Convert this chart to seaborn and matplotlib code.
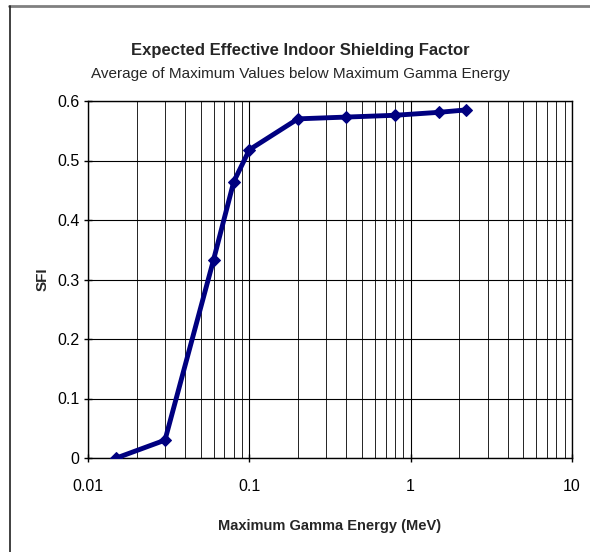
import matplotlib
matplotlib.use("Agg")
import matplotlib.pyplot as plt
import seaborn as sns
import pandas as pd
from matplotlib.lines import Line2D
from matplotlib.ticker import LogLocator, FixedLocator, FixedFormatter

energy = [0.015, 0.03, 0.06, 0.08, 0.1, 0.2, 0.4, 0.8, 1.5, 2.2]
sfi = [0.0, 0.03, 0.333, 0.464, 0.518, 0.570, 0.573, 0.576, 0.581, 0.585]
x_ticks = [0.01, 0.1, 1, 10]
x_tick_labels = ["0.01", "0.1", "1", "10"]
y_ticks = [0, 0.1, 0.2, 0.3, 0.4, 0.5, 0.6]
y_tick_labels = ["0", "0.1", "0.2", "0.3", "0.4", "0.5", "0.6"]

sns.set_style("white")
plt.rcParams['font.family'] = ['Liberation Sans', 'DejaVu Sans']

df = pd.DataFrame({"energy": energy, "sfi": sfi})

fig = plt.figure(figsize=(5.9, 5.52), dpi=100)
ax = fig.add_axes([88/590, 1-458/552, (572-88)/590, (458-101)/552])

ax.set_xscale("log")
sns.lineplot(data=df, x="energy", y="sfi", ax=ax, color="#000080", linewidth=3.5,
             marker="D", markersize=6.5, markeredgecolor="#000080", zorder=5)

ax.set_xlim(0.01, 10)
ax.set_ylim(0, 0.6)
ax.xaxis.set_major_locator(FixedLocator(x_ticks))
ax.xaxis.set_major_formatter(FixedFormatter(x_tick_labels))
ax.xaxis.set_minor_locator(LogLocator(base=10, subs=range(2, 10)))
ax.yaxis.set_major_locator(FixedLocator(y_ticks))
ax.yaxis.set_major_formatter(FixedFormatter(y_tick_labels))

ax.grid(True, which="major", axis="both", color="black", linewidth=0.8)
ax.grid(True, which="minor", axis="x", color="black", linewidth=0.6)
for s in ax.spines.values():
    s.set_visible(True)
    s.set_color("black")
    s.set_linewidth(1.0)

ax.tick_params(axis="both", which="major", direction="inout", length=6, width=1,
               labelsize=11.5, colors="black", bottom=True, left=True)
ax.tick_params(axis="y", pad=3)
ax.tick_params(axis="x", pad=12)
ax.tick_params(axis="x", which="minor", bottom=False)

ax.set_xlabel("Maximum Gamma Energy (MeV)", fontsize=10.5, fontweight="bold", labelpad=18)
ax.set_ylabel("SFI", fontsize=11, fontweight="bold")
ax.yaxis.set_label_coords((50-88)/(572-88), 0.5)

fig.text(300/590, 1-50/552, "Expected Effective Indoor Shielding Factor", ha="center", va="center",
         fontsize=12, fontweight="bold")
fig.text(300/590, 1-74/552, "Average of Maximum Values below Maximum Gamma Energy", ha="center",
         va="center", fontsize=11)

fig.add_artist(Line2D([9/590, 1.0], [1-6/552, 1-6/552], transform=fig.transFigure,
                      color="#808080", linewidth=2))
fig.add_artist(Line2D([10/590, 10/590], [1-6/552, 0], transform=fig.transFigure,
                      color="#202020", linewidth=1.2))

fig.savefig("out.png", dpi=100)
